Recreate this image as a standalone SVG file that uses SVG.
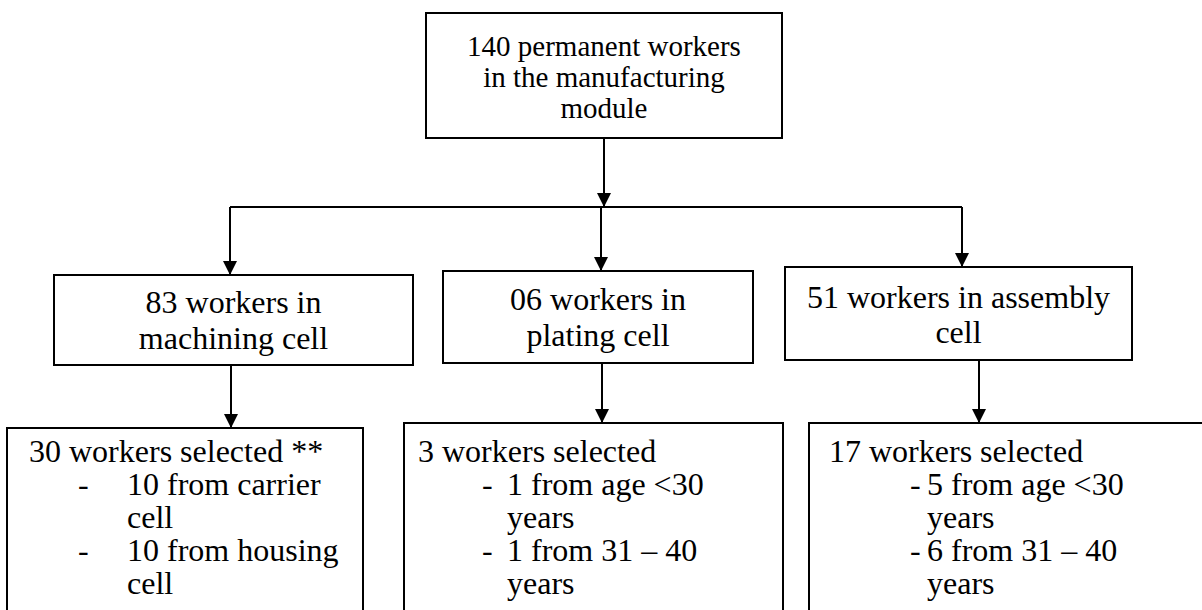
<svg xmlns="http://www.w3.org/2000/svg" width="1202" height="610" viewBox="0 0 1202 610">
  <style>
    .box { fill: #ffffff; stroke: #000000; stroke-width: 2; }
    .conn { fill: none; stroke: #000000; stroke-width: 2; }
    text { font-family: "Liberation Serif", "Times New Roman", serif; fill: #000000; }
    .t30 { font-size: 29px; }
    .t32 { font-size: 32px; }
    .c { text-anchor: middle; }
  </style>
  <defs>
    <marker id="arrow" markerUnits="userSpaceOnUse" viewBox="0 0 14 14" refX="14" refY="7" markerWidth="14" markerHeight="14" orient="auto">
      <path d="M0,0 L14,7 L0,14 Z" fill="#000000"/>
    </marker>
  </defs>
  <rect width="1202" height="610" fill="#ffffff"/>

  <g id="connectors">
    <path class="conn" d="M604,138 V207" marker-end="url(#arrow)"/>
    <path class="conn" d="M230,207 H962"/>
    <path class="conn" d="M230,207 V275" marker-end="url(#arrow)"/>
    <path class="conn" d="M601,207 V271" marker-end="url(#arrow)"/>
    <path class="conn" d="M962,207 V267" marker-end="url(#arrow)"/>
    <path class="conn" d="M231,365 V428" marker-end="url(#arrow)"/>
    <path class="conn" d="M602,363 V423" marker-end="url(#arrow)"/>
    <path class="conn" d="M979,360 V423" marker-end="url(#arrow)"/>
  </g>

  <g id="node-top">
    <rect class="box" x="426" y="13" width="356" height="125"/>
    <text class="t30 c" x="604" y="56">140 permanent workers</text>
    <text class="t30 c" x="604" y="87">in the manufacturing</text>
    <text class="t30 c" x="604" y="118">module</text>
  </g>

  <g id="node-machining">
    <rect class="box" x="54" y="275" width="359" height="90"/>
    <text class="t32 c" x="233.5" y="313">83 workers in</text>
    <text class="t32 c" x="233.5" y="349">machining cell</text>
  </g>

  <g id="node-plating">
    <rect class="box" x="443" y="271" width="310" height="92"/>
    <text class="t32 c" x="598" y="310">06 workers in</text>
    <text class="t32 c" x="598" y="346">plating cell</text>
  </g>

  <g id="node-assembly">
    <rect class="box" x="785" y="267" width="347" height="93"/>
    <text class="t32 c" x="958.5" y="308">51 workers in assembly</text>
    <text class="t32 c" x="958.5" y="343">cell</text>
  </g>

  <g id="node-machining-selected">
    <rect class="box" x="7" y="428" width="356" height="200"/>
    <text class="t32" x="29" y="462">30 workers selected **</text>
    <text class="t32" x="78" y="495">-</text>
    <text class="t32" x="127" y="495">10 from carrier</text>
    <text class="t32" x="127" y="528">cell</text>
    <text class="t32" x="78" y="561">-</text>
    <text class="t32" x="127" y="561">10 from housing</text>
    <text class="t32" x="127" y="594">cell</text>
  </g>

  <g id="node-plating-selected">
    <rect class="box" x="404" y="423" width="379" height="200"/>
    <text class="t32" x="418" y="462">3 workers selected</text>
    <text class="t32" x="482" y="495">-</text>
    <text class="t32" x="507" y="495">1 from age &lt;30</text>
    <text class="t32" x="507" y="528">years</text>
    <text class="t32" x="482" y="561">-</text>
    <text class="t32" x="507" y="561">1 from 31 – 40</text>
    <text class="t32" x="507" y="594">years</text>
  </g>

  <g id="node-assembly-selected">
    <rect class="box" x="809" y="423" width="420" height="200"/>
    <text class="t32" x="829" y="462">17 workers selected</text>
    <text class="t32" x="910" y="495">-</text>
    <text class="t32" x="927" y="495">5 from age &lt;30</text>
    <text class="t32" x="927" y="528">years</text>
    <text class="t32" x="910" y="561">-</text>
    <text class="t32" x="927" y="561">6 from 31 – 40</text>
    <text class="t32" x="927" y="594">years</text>
  </g>
</svg>
